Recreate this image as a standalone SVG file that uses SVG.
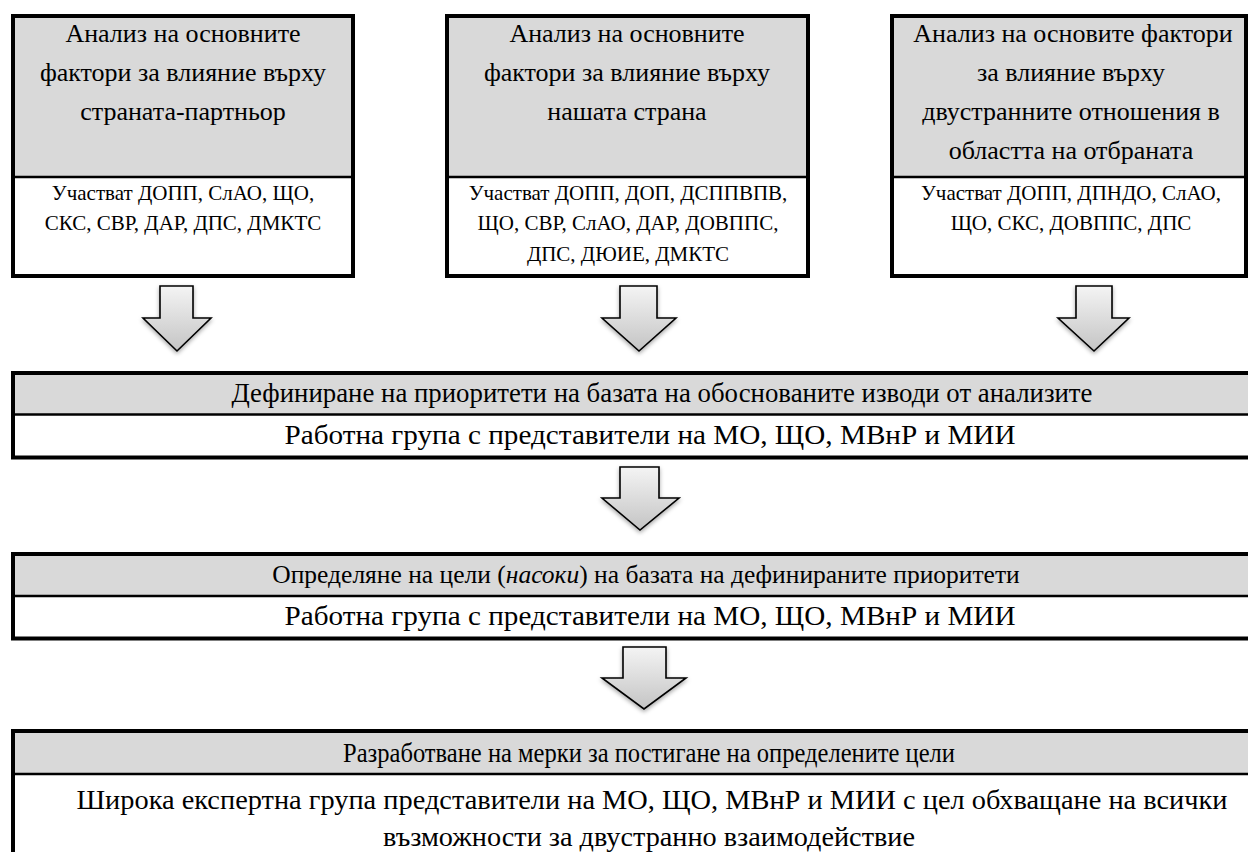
<svg xmlns="http://www.w3.org/2000/svg" width="1248" height="852" viewBox="0 0 1248 852">
<style>
  text { font-family: "Liberation Serif", "DejaVu Serif", serif; fill: #000; text-anchor: middle; }
  .h { font-size: 26px; }
  .s { font-size: 21px; }
  .b { font-size: 27.5px; }
  .frame { fill: none; stroke: #000; stroke-width: 4; }
  .gray { fill: #d9d9d9; }
  .white { fill: #ffffff; }
  .div { stroke: #000; stroke-width: 2.5; }
  .arrow { fill: url(#ag); stroke: #000; stroke-width: 1.6; stroke-linejoin: miter; filter: url(#sh); }
</style>
<defs>
  <linearGradient id="ag" x1="0" y1="0" x2="0" y2="1">
    <stop offset="0" stop-color="#f4f4f4"/>
    <stop offset="1" stop-color="#c4c4c4"/>
  </linearGradient>
  <filter id="sh" x="-30%" y="-30%" width="160%" height="160%">
    <feDropShadow dx="0" dy="2" stdDeviation="2" flood-color="#000" flood-opacity="0.35"/>
  </filter>
</defs>
<rect x="0" y="0" width="1248" height="852" fill="#fff"/>

<g id="box1">
  <rect class="white" x="13" y="16" width="340" height="260"/>
  <rect class="gray" x="13" y="16" width="340" height="161"/>
  <line class="div" x1="13" y1="177" x2="353" y2="177"/>
  <rect class="frame" x="13" y="16" width="340" height="260"/>
  <text class="h" x="183" y="42">Анализ на основните</text>
  <text class="h" x="183" y="81">фактори за влияние върху</text>
  <text class="h" x="183" y="120">страната-партньор</text>
  <text class="s" x="183" y="200">Участват ДОПП, СлАО, ЩО,</text>
  <text class="s" x="183" y="230">СКС, СВР, ДАР, ДПС, ДМКТС</text>
</g>

<g id="box2">
  <rect class="white" x="447" y="16" width="361" height="260"/>
  <rect class="gray" x="447" y="16" width="361" height="161"/>
  <line class="div" x1="447" y1="177" x2="808" y2="177"/>
  <rect class="frame" x="447" y="16" width="361" height="260"/>
  <text class="h" x="627" y="42">Анализ на основните</text>
  <text class="h" x="627" y="81">фактори за влияние върху</text>
  <text class="h" x="627" y="120">нашата страна</text>
  <text class="s" x="628" y="200">Участват ДОПП, ДОП, ДСППВПВ,</text>
  <text class="s" x="628" y="230">ЩО, СВР, СлАО, ДАР, ДОВППС,</text>
  <text class="s" x="628" y="261">ДПС, ДЮИЕ, ДМКТС</text>
</g>

<g id="box3">
  <rect class="white" x="892" y="16" width="354" height="260"/>
  <rect class="gray" x="892" y="16" width="354" height="161"/>
  <line class="div" x1="892" y1="177" x2="1246" y2="177"/>
  <rect class="frame" x="892" y="16" width="354" height="260"/>
  <text class="h" x="1073" y="42" font-size="26.5">Анализ на основите фактори</text>
  <text class="h" x="1071" y="81">за влияние върху</text>
  <text class="h" x="1071" y="120">двустранните отношения в</text>
  <text class="h" x="1071" y="159">областта на отбраната</text>
  <text class="s" x="1071" y="200">Участват ДОПП, ДПНДО, СлАО,</text>
  <text class="s" x="1071" y="230">ЩО, СКС, ДОВППС, ДПС</text>
</g>

<g id="step1">
  <rect class="white" x="13" y="373" width="1290" height="84.5"/>
  <rect class="gray" x="13" y="373" width="1290" height="41.5"/>
  <line class="div" x1="13" y1="414.5" x2="1303" y2="414.5"/>
  <rect class="frame" x="13" y="373" width="1290" height="84.5"/>
  <text class="b" x="662" y="402" textLength="861" lengthAdjust="spacingAndGlyphs">Дефиниране на приоритети на базата на обоснованите изводи от анализите</text>
  <text class="b" x="650" y="444" textLength="731" lengthAdjust="spacingAndGlyphs">Работна група с представители на МО, ЩО, МВнР и МИИ</text>
</g>

<g id="step2">
  <rect class="white" x="13" y="554" width="1290" height="84.5"/>
  <rect class="gray" x="13" y="554" width="1290" height="42"/>
  <line class="div" x1="13" y1="596" x2="1303" y2="596"/>
  <rect class="frame" x="13" y="554" width="1290" height="84.5"/>
  <text x="646" y="583" font-size="25.5">Определяне на цели (<tspan font-style="italic">насоки</tspan>) на базата на дефинираните приоритети</text>
  <text class="b" x="650" y="625" textLength="731" lengthAdjust="spacingAndGlyphs">Работна група с представители на МО, ЩО, МВнР и МИИ</text>
</g>

<g id="step3">
  <rect class="white" x="13" y="731" width="1290" height="170"/>
  <rect class="gray" x="13" y="731" width="1290" height="43"/>
  <line class="div" x1="13" y1="774" x2="1303" y2="774"/>
  <rect class="frame" x="13" y="731" width="1290" height="170"/>
  <text class="b" x="649" y="762" textLength="612" lengthAdjust="spacingAndGlyphs">Разработване на мерки за постигане на определените цели</text>
  <text class="b" x="652" y="809" textLength="1151" lengthAdjust="spacingAndGlyphs">Широка експертна група представители на МО, ЩО, МВнР и МИИ с цел обхващане на всички</text>
  <text class="b" x="649" y="846" textLength="532" lengthAdjust="spacingAndGlyphs">възможности за двустранно взаимодействие</text>
</g>

<g id="connectors">
  <path class="arrow" d="M160,286 H193 V318 H211 L177,351 L143,318 H160 Z"/>
  <path class="arrow" d="M620,286 H657 V318 H676 L639,351 L602,318 H620 Z"/>
  <path class="arrow" d="M1076,286 H1112 V318 H1129 L1094,351 L1058,318 H1076 Z"/>
  <path class="arrow" d="M620,467 H659 V498 H679 L640,530 L602,498 H620 Z"/>
  <path class="arrow" d="M623,647 H666 V678 H686 L644,709 L602,678 H623 Z"/>
</g>
</svg>
